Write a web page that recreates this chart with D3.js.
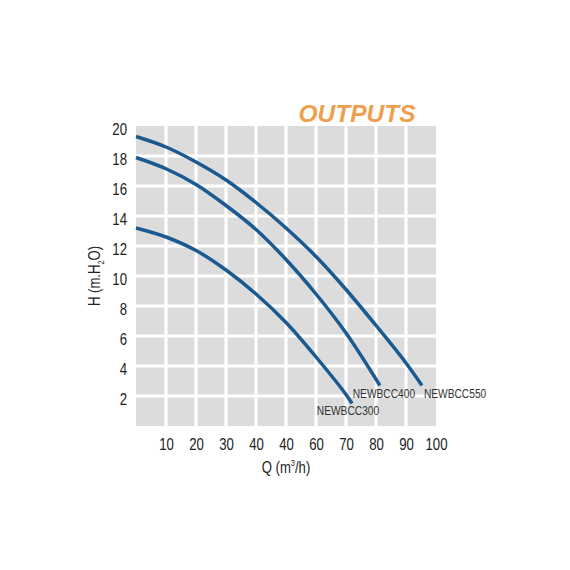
<!DOCTYPE html>
<html>
<head>
<meta charset="utf-8">
<script src="https://cdn.jsdelivr.net/npm/d3@7"></script>
<style>
  body { margin: 0; background: #fff; }
  text { font-family: "Liberation Sans", Arial, sans-serif; }
</style>
</head>
<body>
<svg></svg>
<script>
// flow Q (m3/h) and head H (m)
const q550 = [0, 10, 20, 30, 40, 50, 60, 70, 80, 90, 95.3];
const h550 = [19.3, 18.6, 17.6, 16.4, 14.9, 13.2, 11.3, 9.1, 6.7, 4.2, 2.7];
const q400 = [0, 10, 20, 30, 40, 50, 60, 70, 81.3];
const h400 = [17.9, 17.15, 16.1, 14.7, 13.1, 11.1, 8.8, 6.2, 2.7];
const q300 = [0, 10, 20, 30, 40, 50, 60, 70, 72];
const h300 = [13.2, 12.6, 11.7, 10.4, 8.8, 6.9, 4.6, 2.1, 1.5];
const models = ['NEWBCC550', 'NEWBCC400', 'NEWBCC300'];

const xTicks = [10, 20, 30, 40, 50, 60, 70, 80, 90, 100];
const xTickLabels = ['10', '20', '30', '40', '40', '60', '70', '80', '90', '100'];
const yTicks = [2, 4, 6, 8, 10, 12, 14, 16, 18, 20];

const width = 570;
const height = 570;
const plot = {left: 136, top: 126, right: 436, bottom: 426};

const svg = d3.select('svg')
    .attr('width', width).attr('height', height);

const x = d3.scaleLinear().domain([0, 100]).range([plot.left, plot.right]);
const y = d3.scaleLinear().domain([0, 20]).range([plot.bottom, plot.top]);

// the original uses a condensed face; squeeze the glyphs to match
function narrow(sel, k) {
    sel.each(function () {
        const w = this.getComputedTextLength();
        d3.select(this).attr('textLength', w * k).attr('lengthAdjust', 'spacingAndGlyphs');
    });
}

// grey panel with white grid
svg.append('rect')
    .attr('x', plot.left).attr('y', plot.top)
    .attr('width', plot.right - plot.left).attr('height', plot.bottom - plot.top)
    .attr('fill', '#dcdcdc');

svg.append('g').selectAll('line')
    .data(xTicks.slice(0, -1))
    .join('line')
    .attr('x1', d => x(d)).attr('x2', d => x(d))
    .attr('y1', plot.top).attr('y2', plot.bottom)
    .attr('stroke', '#fff').attr('stroke-width', 3);

svg.append('g').selectAll('line')
    .data(yTicks.slice(0, -1))
    .join('line')
    .attr('y1', d => y(d)).attr('y2', d => y(d))
    .attr('x1', plot.left).attr('x2', plot.right)
    .attr('stroke', '#fff').attr('stroke-width', 3);

// axes (labels only)
const xAxis = svg.append('g')
    .attr('transform', `translate(0,${plot.bottom + 9})`)
    .call(d3.axisBottom(x).tickValues(xTicks).tickSize(0)
        .tickFormat((d, i) => xTickLabels[i]));
const yAxis = svg.append('g')
    .attr('transform', `translate(${plot.left - 9},3)`)
    .call(d3.axisLeft(y).tickValues(yTicks).tickSize(0));
[xAxis, yAxis].forEach(a => {
    a.select('.domain').remove();
    a.selectAll('text')
        .attr('font-family', '"Liberation Sans", Arial, sans-serif')
        .attr('font-size', 16.5).attr('fill', '#222')
        .call(narrow, 0.8);
});
yAxis.selectAll('text').attr('x', 0);

// axis titles
const xTitle = svg.append('text')
    .attr('transform', 'translate(286,473) scale(0.82,1)')
    .attr('text-anchor', 'middle')
    .attr('font-size', 16).attr('fill', '#222');
xTitle.append('tspan').text('Q (m');
xTitle.append('tspan').text('3').attr('font-size', 9).attr('dy', -7);
xTitle.append('tspan').text('/h)').attr('dy', 7);

const yTitle = svg.append('text')
    .attr('transform', `translate(100,${(plot.top + plot.bottom) / 2}) rotate(-90) scale(0.82,1)`)
    .attr('text-anchor', 'middle')
    .attr('font-size', 16).attr('fill', '#222');
yTitle.append('tspan').text('H (m.H');
yTitle.append('tspan').text('2').attr('font-size', 9).attr('dy', 4);
yTitle.append('tspan').text('O)').attr('dy', -4);

// title
svg.append('text')
    .attr('x', 357).attr('y', 122)
    .attr('text-anchor', 'middle')
    .attr('font-size', 24.5).attr('font-weight', 'bold').attr('font-style', 'italic')
    .attr('fill', '#ee9f4d')
    .text('OUTPUTS');

// pump curves
const series = [
    {name: models[0], q: q550, h: h550},
    {name: models[1], q: q400, h: h400},
    {name: models[2], q: q300, h: h300}
];
const line = d3.line()
    .x(d => x(d[0])).y(d => y(d[1]))
    .curve(d3.curveCatmullRom.alpha(0.5));

svg.append('g').selectAll('path')
    .data(series)
    .join('path')
    .attr('d', s => line(s.q.map((v, i) => [v, s.h[i]])))
    .attr('fill', 'none')
    .attr('stroke', '#1b5a91')
    .attr('stroke-width', 3.5)
    .attr('stroke-linecap', 'butt');

// model labels at curve ends
const labelPlace = {
    NEWBCC550: {anchor: 'start', dx: 2, dy: 12},
    NEWBCC400: {anchor: 'middle', dx: 4, dy: 12},
    NEWBCC300: {anchor: 'middle', dx: -4, dy: 11}
};
svg.append('g').selectAll('text')
    .data(series)
    .join('text')
    .attr('x', s => x(s.q[s.q.length - 1]) + labelPlace[s.name].dx)
    .attr('y', s => y(s.h[s.h.length - 1]) + labelPlace[s.name].dy)
    .attr('text-anchor', s => labelPlace[s.name].anchor)
    .attr('font-size', 12).attr('fill', '#333')
    .text(s => s.name)
    .call(narrow, 0.85);
</script>
</body>
</html>
